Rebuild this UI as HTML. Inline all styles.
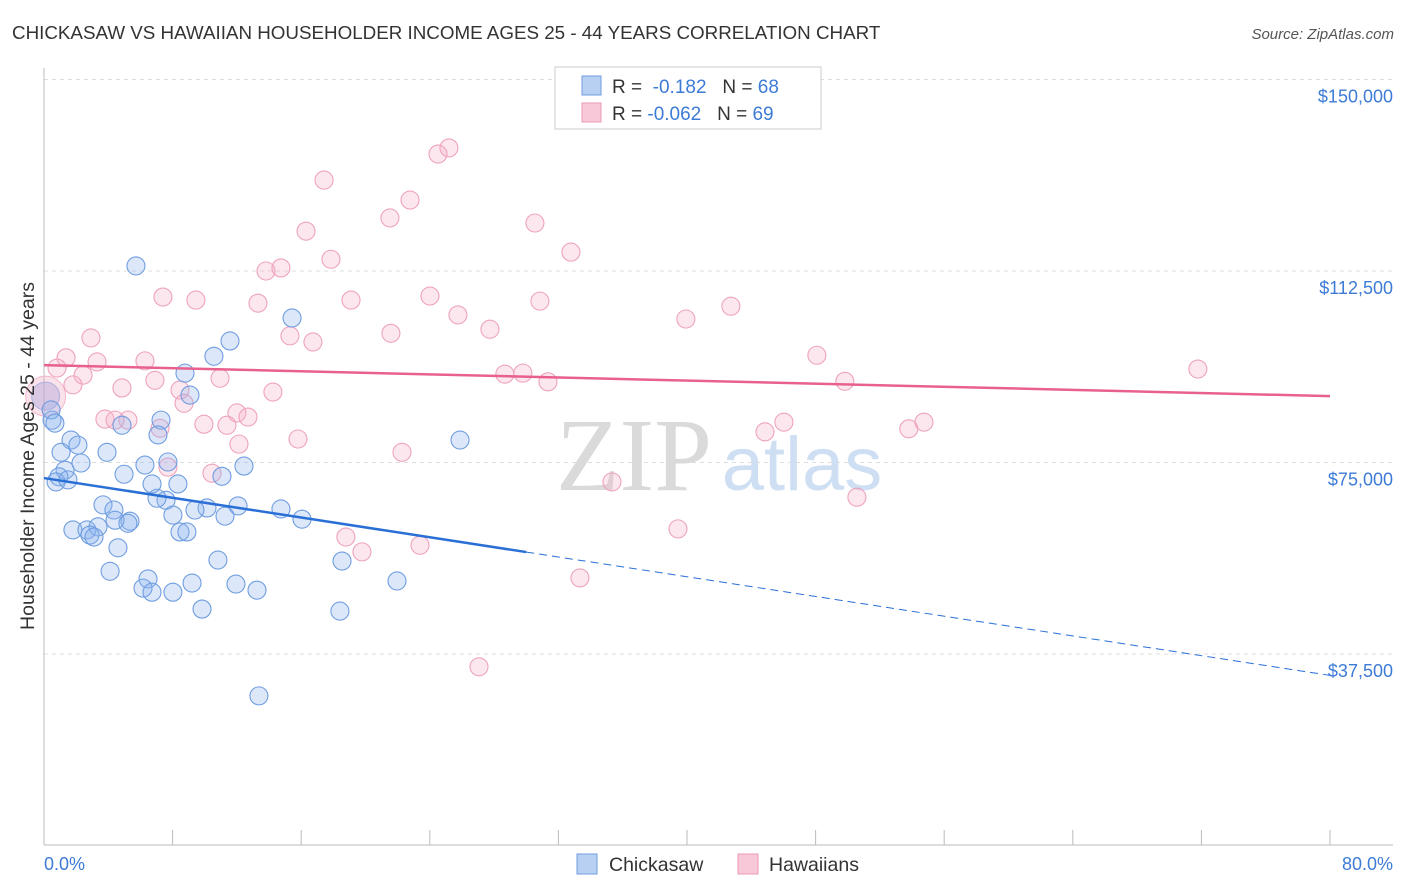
<!DOCTYPE html>
<html><head><meta charset="utf-8"><style>
body{margin:0;background:#fff;}
svg{display:block;font-family:"Liberation Sans",sans-serif;}
</style></head><body>
<svg id="chart" width="1406" height="892" viewBox="0 0 1406 892" xmlns="http://www.w3.org/2000/svg">
<text x="12" y="39" font-size="18.8" fill="#333">CHICKASAW VS HAWAIIAN HOUSEHOLDER INCOME AGES 25 - 44 YEARS CORRELATION CHART</text>
<text x="1394" y="39" font-size="15" fill="#555" text-anchor="end" font-style="italic">Source: ZipAtlas.com</text>
<g id="grid"></g>
<g>
<text x="634" y="490" font-size="104" font-family="Liberation Serif, serif" fill="#dadada" text-anchor="middle">ZIP</text>
<text x="802" y="490" font-size="76" fill="#cfdff3" text-anchor="middle">atlas</text>
</g>
<g id="axes"></g>
<g id="pinkPts"></g>
<g id="bluePts"></g>
<g id="trends"></g>
<text transform="translate(34,456) rotate(-90)" font-size="19.5" fill="#333" text-anchor="middle">Householder Income Ages 25 - 44 years</text>
<g>
<rect x="555" y="67" width="266" height="62" fill="#fff" stroke="#ccc"/>
<rect x="582" y="76" width="19" height="19" fill="#b8d0f2" stroke="#6f9de0"/>
<rect x="582" y="103" width="19" height="19" fill="#f9c8d8" stroke="#ec9ab5"/>
<text x="612" y="93" font-size="19" fill="#333">R = <tspan fill="#3d7bd6">&#160;-0.182</tspan>&#160;&#160;&#160;N = <tspan fill="#3d7bd6">68</tspan></text>
<text x="612" y="120" font-size="19" fill="#333">R = <tspan fill="#3d7bd6">-0.062</tspan>&#160;&#160;&#160;N = <tspan fill="#3d7bd6">69</tspan></text>
</g>
<g>
<rect x="577" y="854" width="20" height="20" fill="#b8d0f2" stroke="#6f9de0"/>
<text x="609" y="871" font-size="19.5" fill="#333">Chickasaw</text>
<rect x="738" y="854" width="20" height="20" fill="#f9c8d8" stroke="#ec9ab5"/>
<text x="769" y="871" font-size="19.5" fill="#333">Hawaiians</text>
</g>
</svg>
<script>
const yTicks=[37500,75000,112500,150000];
const yTickLabels=["$37,500","$75,000","$112,500","$150,000"];
const xTicks=[0,8,16,24,32,40,48,56,64,72,80];
const xEndLabels=["0.0%","80.0%"];
const chickasawX=[5.72,15.43,11.57,10.57,8.77,9.08,0.50,4.85,7.28,7.09,1.68,2.11,1.06,3.92,2.30,1.31,6.28,7.71,12.44,25.88,0.93,0.75,1.49,4.98,6.72,8.33,11.07,7.59,7.03,3.67,4.35,10.14,12.07,14.74,9.39,8.02,11.26,16.05,5.35,4.42,5.22,1.80,2.67,3.36,2.86,3.11,8.46,8.89,4.60,10.82,18.54,4.11,6.47,9.21,11.94,21.96,6.16,6.72,8.02,13.25,9.83,18.41,13.37,0.44,0.68];
const chickasawY=[113500,103300,98800,95800,92500,88200,83300,82300,83300,80400,79400,78400,77000,77000,74900,73500,74500,75100,74300,79400,72200,71200,71600,72700,70800,70800,72300,67600,68000,66700,65700,66100,66500,65900,65700,64700,64500,63900,63500,63700,63100,61800,61800,62400,60800,60400,61400,61400,58300,55900,55700,53700,52200,51400,51200,51800,50400,49600,49600,50000,46300,45900,29300,85300,82700];
const hawaiiansX=[25.19,24.51,17.42,22.77,21.52,16.30,30.54,32.78,17.85,13.81,14.74,7.40,9.45,13.31,19.10,24.01,30.85,25.75,42.73,39.93,27.74,21.58,2.92,15.30,16.73,1.37,3.30,6.28,48.08,0.81,2.43,28.67,29.79,71.78,6.90,10.95,31.35,49.82,1.80,4.85,8.46,14.24,8.71,12.00,12.69,3.79,5.22,4.42,7.22,9.95,11.38,46.03,53.80,54.74,44.85,15.80,12.13,22.27,7.71,10.45,35.33,50.57,39.44,18.78,19.78,23.39,33.34,27.06];
const hawaiiansY=[136600,135400,130300,126400,122900,120300,121900,116200,114800,112500,113100,107400,106800,106200,106800,107600,106600,103900,105600,103100,101100,100300,99400,99800,98600,95500,94700,94900,96000,93500,92100,92300,92500,93300,91100,91500,90800,90900,90200,89600,89200,88800,86600,84700,83900,83500,83300,83300,81700,82500,82300,82900,81600,82900,81000,79600,78600,77000,74100,72900,71200,68200,62000,60400,57500,58800,52400,35000];
const bigX=[0.1];
const bigY=[88000];
const blueTrend=[71950,-483];
const pinkTrend=[94080,-76];
const blueSolidEnd=30;

const X0=44,X1=1330,YB=845.5,YPX=191.5/37500;
const sx=v=>X0+(v/80)*(X1-X0);
const sy=v=>YB-v*YPX;
const NS="http://www.w3.org/2000/svg";
function mk(tag,attrs,parent){const e=document.createElementNS(NS,tag);for(const k in attrs)e.setAttribute(k,attrs[k]);parent.appendChild(e);return e;}
const grid=document.getElementById('grid'),axes=document.getElementById('axes');
yTicks.forEach((t,i)=>{
  const l=mk('line',{x1:44,x2:1393,y1:sy(t),y2:sy(t),stroke:'#ddd','stroke-dasharray':'4,4'},grid);
  
  
  const tx=mk('text',{x:1393,y:sy(t)+23,'font-size':18,fill:'#3d7bd6','text-anchor':'end'},axes);
  tx.textContent=yTickLabels[i];
  
  
});
mk('line',{x1:44,x2:44,y1:68,y2:845,stroke:'#bbb'},axes);
mk('line',{x1:44,x2:1393,y1:845,y2:845,stroke:'#bbb'},axes);
xTicks.forEach(t=>{
  const l=mk('line',{x1:sx(t),x2:sx(t),y1:830,y2:845,stroke:'#bbb'},axes);
  
  
});
[[0,'start',44],[80,'end',1393]].forEach((d,i)=>{
  const tx=mk('text',{x:d[2],y:870,'font-size':18,fill:'#3d7bd6','text-anchor':d[1]},axes);
  tx.textContent=xEndLabels[i];
  
  
});
const pg=document.getElementById('pinkPts'),bg=document.getElementById('bluePts');
bigX.forEach((x,i)=>{
  const c=mk('circle',{cx:sx(x),cy:sy(bigY[i]),r:20,fill:'rgba(240,160,190,0.3)',stroke:'#f3b8cc'},pg);
  
  
  const c2=mk('circle',{cx:sx(x),cy:sy(bigY[i]),r:14,fill:'rgba(170,160,215,0.4)',stroke:'#b0b0e0'},bg);
  
  
});
hawaiiansX.forEach((x,i)=>{
  const c=mk('circle',{cx:sx(x),cy:sy(hawaiiansY[i]),r:9,fill:'rgba(246,175,200,0.3)',stroke:'#eea3bc','stroke-width':1.1},pg);
  
  
});
chickasawX.forEach((x,i)=>{
  const c=mk('circle',{cx:sx(x),cy:sy(chickasawY[i]),r:9,fill:'rgba(140,180,238,0.3)',stroke:'#6f9de0','stroke-width':1.1},bg);
  
  
});
const tg=document.getElementById('trends');
const bt=x=>blueTrend[0]+blueTrend[1]*x, pt=x=>pinkTrend[0]+pinkTrend[1]*x;
let l=mk('line',{x1:sx(0),y1:sy(bt(0)),x2:sx(blueSolidEnd),y2:sy(bt(blueSolidEnd)),stroke:'#2a6fd6','stroke-width':2.5},tg);


l=mk('line',{x1:sx(blueSolidEnd),y1:sy(bt(blueSolidEnd)),x2:sx(80),y2:sy(bt(80)),stroke:'#2a6fd6','stroke-width':1,'stroke-dasharray':'8,5'},tg);


l=mk('line',{x1:sx(0),y1:sy(pt(0)),x2:sx(80),y2:sy(pt(80)),stroke:'#e8608f','stroke-width':2.5},tg);


</script>
</body></html>
